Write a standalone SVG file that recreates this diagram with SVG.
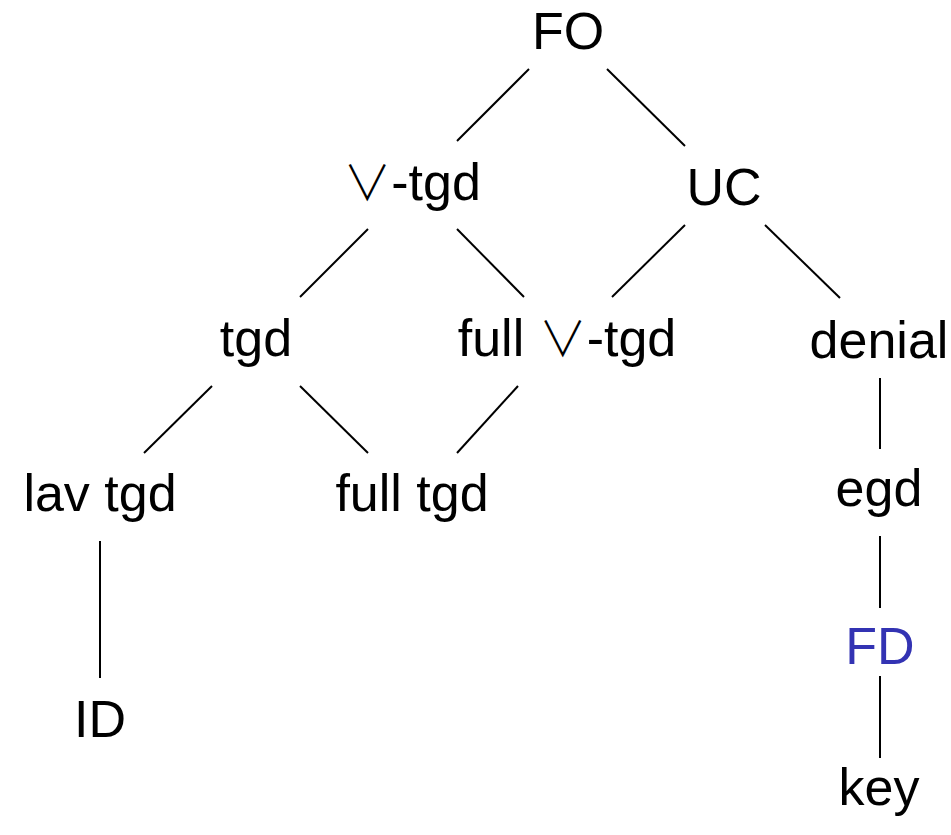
<svg xmlns="http://www.w3.org/2000/svg" width="951" height="835" viewBox="0 0 951 835">
<style>
text{font-family:"Liberation Sans","DejaVu Sans",sans-serif;font-size:52px;fill:#000;text-anchor:middle}
.vee{font-family:"Noto Sans CJK JP","DejaVu Sans",sans-serif;font-weight:300;font-size:48px}
.blue{fill:#3333b3}
line{stroke:#000;stroke-width:2;stroke-linecap:butt}
</style>
<rect width="951" height="835" fill="#fff"/>
<g id="connectors">
<line x1="529" y1="69" x2="457" y2="141"/>
<line x1="607" y1="69" x2="685" y2="146"/>
<line x1="368" y1="229" x2="300" y2="297"/>
<line x1="457" y1="229" x2="524" y2="297"/>
<line x1="685" y1="225" x2="612" y2="297"/>
<line x1="765" y1="225" x2="840" y2="298"/>
<line x1="212" y1="386" x2="144" y2="453"/>
<line x1="300" y1="386" x2="368" y2="453"/>
<line x1="518" y1="386" x2="457" y2="453"/>
<line x1="100" y1="541" x2="100" y2="678"/>
<line x1="880" y1="378" x2="880" y2="449"/>
<line x1="880" y1="536" x2="880" y2="608"/>
<line x1="880" y1="676" x2="880" y2="758"/>
</g>
<g id="n-FO"><text x="568" y="49">FO</text></g>
<g id="n-vtgd"><text x="412" y="200"><tspan class="vee">∨</tspan>-tgd</text></g>
<g id="n-UC"><text x="724" y="205">UC</text></g>
<g id="n-tgd"><text x="256" y="356">tgd</text></g>
<g id="n-fullvtgd"><text x="567" y="356">full <tspan class="vee">∨</tspan>-tgd</text></g>
<g id="n-denial"><text x="879" y="358">denial</text></g>
<g id="n-lavtgd"><text x="100" y="511">lav tgd</text></g>
<g id="n-fulltgd"><text x="412" y="511">full tgd</text></g>
<g id="n-egd"><text x="879" y="506">egd</text></g>
<g id="n-ID"><text x="100" y="737">ID</text></g>
<g id="n-FD"><text class="blue" x="880" y="664">FD</text></g>
<g id="n-key"><text x="879" y="805">key</text></g>
</svg>
